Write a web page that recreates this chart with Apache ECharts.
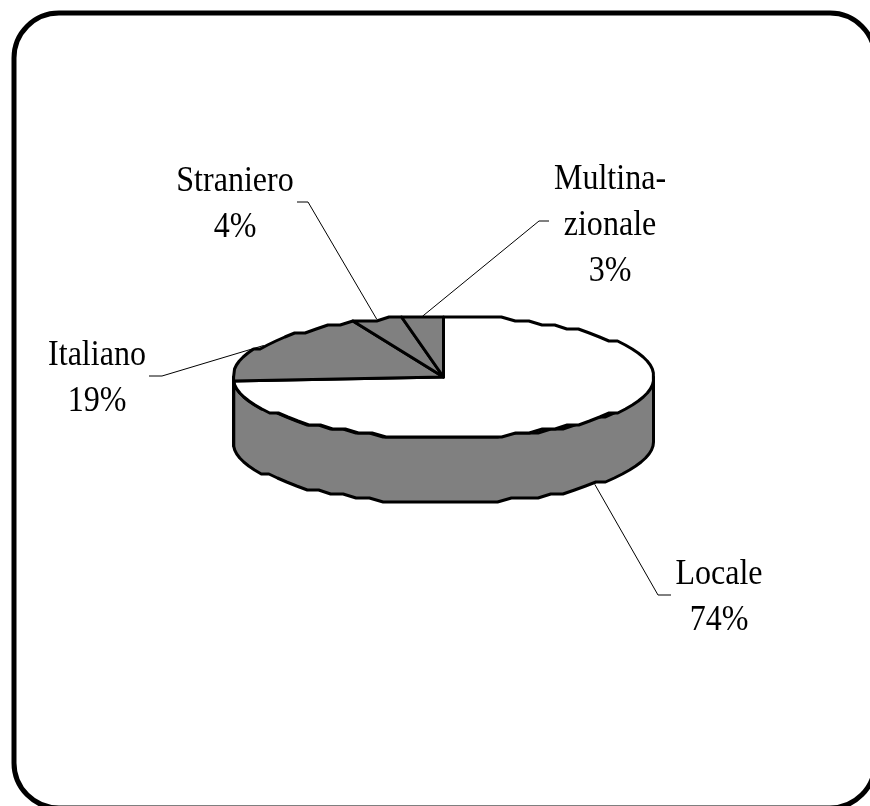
<!DOCTYPE html>
<html>
<head>
<meta charset="utf-8">
<style>
    html, body { margin: 0; padding: 0; background: #fff; }
    #main { width: 870px; height: 806px; }
</style>
<script src="https://cdn.jsdelivr.net/npm/echarts@6/dist/echarts.min.js"></script>
</head>
<body>
<div id="main"></div>
<script>
var categories = ['Locale', 'Italiano', 'Straniero', 'Multinazionale'];
var shares = [74.4, 18.5, 3.9, 3.2];
var labelLines = [['Locale', '74%'], ['Italiano', '19%'], ['Straniero', '4%'], ['Multina-', 'zionale', '3%']];

// pie drawn as a flattened disc
var cx = 443.5, cy = 377, rx = 210, ry = 61, depth = 65;
var step = 4;
// the original outline is wobbly, snap the rim to coarse rows to get the same look
var rimRow = 4;
var topFill = ['#ffffff', '#808080', '#808080', '#808080'];
var wallFill = '#808080';

// label centre x, first line y, and the elbow of each leader line
var labelPos = [
    { x: 719, y: 552, elbow: [[671, 595], [658, 595]] },
    { x: 97, y: 333, elbow: [[149, 376], [162, 376]] },
    { x: 235, y: 159, elbow: [[297, 202], [308, 202]] },
    { x: 610, y: 157, elbow: [[549, 221], [539, 221]] }
];

var total = shares.reduce(function (a, b) { return a + b; }, 0);

function pt(deg, dy) {
    var a = deg * Math.PI / 180;
    return [cx + rx * Math.sin(a), cy - ry * Math.cos(a) + (dy || 0)];
}

function arc(from, to, dy) {
    var n = Math.max(1, Math.ceil((to - from) / step));
    var pts = [];
    for (var i = 0; i <= n; i++) {
        var p = pt(from + (to - from) * i / n, 0);
        pts.push([p[0], cy + Math.round((p[1] - cy) / rimRow) * rimRow + (dy || 0)]);
    }
    return pts;
}

function renderSlice(params, api) {
    var i = params.dataIndex;
    var before = 0;
    for (var k = 0; k < i; k++) before += shares[k];
    var start = before / total * 360;
    var end = (before + shares[i]) / total * 360;
    var mid = (start + end) / 2;
    var children = [];

    // front wall, only the part of the slice facing the viewer
    var wallFrom = Math.max(start, 90), wallTo = Math.min(end, 270);
    if (wallTo > wallFrom) {
        children.push({
            type: 'polygon',
            shape: { points: arc(wallFrom, wallTo, 0).concat(arc(wallFrom, wallTo, depth).reverse()) },
            style: { fill: wallFill, stroke: '#000', lineWidth: 3, lineJoin: 'round' }
        });
    }

    children.push({
        type: 'polygon',
        shape: { points: [[cx, cy]].concat(arc(start, end, 0)) },
        style: { fill: topFill[i], stroke: '#000', lineWidth: 3, lineJoin: 'round' }
    });

    // leader line goes to the middle of the slice edge
    var anchor = pt(mid, mid > 90 && mid < 270 ? depth : 0);
    children.push({
        type: 'polyline',
        shape: { points: labelPos[i].elbow.concat([anchor]) },
        style: { fill: null, stroke: '#000', lineWidth: 1 },
        z2: -1
    });

    children.push({
        type: 'text',
        x: labelPos[i].x,
        y: labelPos[i].y,
        scaleX: 0.89,
        style: {
            text: labelLines[i].join('\n'),
            font: '36px "Liberation Serif"',
            lineHeight: 46,
            fill: '#000',
            align: 'center',
            verticalAlign: 'top'
        }
    });

    return { type: 'group', children: children };
}

var option = {
    animation: false,
    graphic: [{
        type: 'rect',
        shape: { x: 14, y: 13, width: 861, height: 795, r: 45 },
        style: { fill: '#fff', stroke: '#000', lineWidth: 5 },
        z: -10
    }],
    series: [{
        type: 'custom',
        coordinateSystem: 'none',
        renderItem: renderSlice,
        data: categories.map(function (name, i) {
            return { name: name, value: shares[i] };
        })
    }]
};

var myChart = echarts.init(document.getElementById('main'), null, { renderer: 'canvas' });
myChart.setOption(option);
</script>
</body>
</html>
